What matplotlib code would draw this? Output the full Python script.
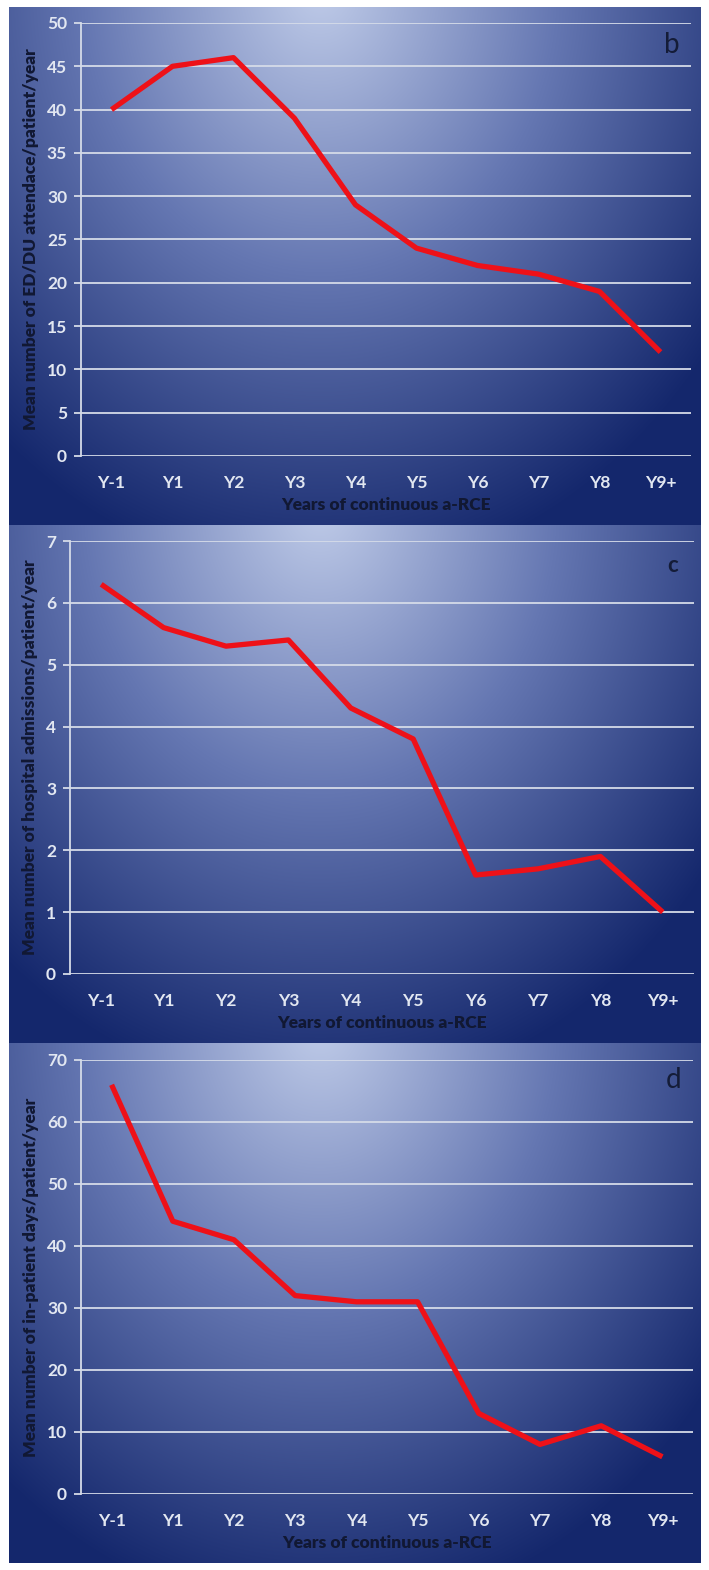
import numpy as np
import matplotlib
matplotlib.use("Agg")
import matplotlib.pyplot as plt
from matplotlib.colors import to_rgb

categories = ["Y-1", "Y1", "Y2", "Y3", "Y4", "Y5", "Y6", "Y7", "Y8", "Y9+"]
ed_visits = [40, 45, 46, 39, 29, 24, 22, 21, 19, 12]
admissions = [6.3, 5.6, 5.3, 5.4, 4.3, 3.8, 1.6, 1.7, 1.9, 1.0]
inpatient_days = [66, 44, 41, 32, 31, 31, 13, 8, 11, 6]

ylabel_b = "Mean number of ED/DU attendace/patient/year"
ylabel_c = "Mean number of hospital admissions/patient/year"
ylabel_d = "Mean number of in-patient days/patient/year"
xlabel = "Years of continuous a-RCE"

plt.rcParams['font.family'] = ['Lato', 'DejaVu Sans']

W, H = 709, 1570
fig = plt.figure(figsize=(W / 100, H / 100), dpi=100)
fig.patch.set_facecolor("white")


def fx(px):
    return px / W


def fy(py):
    return 1 - py / H


def gradient(w, h):
    light = np.array(to_rgb("#c0cce9"))
    mid = np.array(to_rgb("#6577b2"))
    dark = np.array(to_rgb("#14276c"))
    xs = np.linspace(0, 1, w)
    ys = np.linspace(0, 1, h)
    X, Y = np.meshgrid(xs, ys)
    d = np.sqrt(((X - 0.45) / 0.62) ** 2 + ((Y + 0.04) / 1.0) ** 2)
    d = np.clip(d / 1.15, 0, 1)
    s = 0.48
    t1 = np.clip(d / s, 0, 1)[..., None]
    t2 = np.clip((d - s) / (1 - s), 0, 1)[..., None]
    img = np.where(d[..., None] < s, light + (mid - light) * t1, mid + (dark - mid) * t2)
    return img


panels = [
    dict(bg=(9, 701, 7, 525), ax=(81, 691, 23, 456), data=ed_visits, ymax=50, step=5,
         ylabel=ylabel_b, letter="b", lpos=(672, 45), lsize=20, lweight="normal"),
    dict(bg=(9, 701, 525, 1043), ax=(70, 694, 541, 974), data=admissions, ymax=7, step=1,
         ylabel=ylabel_c, letter="c", lpos=(673, 566), lsize=16, lweight="bold"),
    dict(bg=(9, 701, 1043, 1563), ax=(81, 693, 1060, 1494), data=inpatient_days, ymax=70, step=10,
         ylabel=ylabel_d, letter="d", lpos=(674, 1080), lsize=20, lweight="normal"),
]

light_txt = "#e2e7f1"
grid_col = "#d5dbe8"

for p in panels:
    x0, x1, y0, y1 = p["bg"]
    bgax = fig.add_axes([fx(x0), fy(y1), fx(x1 - x0), (y1 - y0) / H])
    bgax.imshow(gradient(x1 - x0, y1 - y0), aspect="auto", extent=(0, 1, 1, 0))
    bgax.set_axis_off()

    a0, a1, b0, b1 = p["ax"]
    ax = fig.add_axes([fx(a0), fy(b1), fx(a1 - a0), (b1 - b0) / H])
    ax.set_facecolor("none")
    xs = np.arange(len(categories))
    ax.plot(xs, p["data"], color="#ee1118", lw=3.8, solid_capstyle="butt", zorder=3)
    ax.set_xlim(-0.5, len(categories) - 0.5)
    ax.set_ylim(0, p["ymax"])
    ax.set_yticks(np.arange(0, p["ymax"] + p["step"] / 2, p["step"]))
    ax.set_xticks(xs)
    ax.set_xticklabels(categories)
    ax.yaxis.grid(True, color=grid_col, lw=1.3, zorder=1)
    ax.set_axisbelow(True)
    for s in ["top", "right", "bottom"]:
        ax.spines[s].set_visible(False)
    ax.spines["left"].set_color(grid_col)
    ax.spines["left"].set_linewidth(1.3)
    ax.tick_params(axis="y", length=5, width=1.3, color=grid_col, labelcolor=light_txt,
                   labelsize=12.5, pad=5)
    ax.tick_params(axis="x", length=0, labelcolor=light_txt, labelsize=12.5, pad=14)
    for lab in ax.get_xticklabels() + ax.get_yticklabels():
        lab.set_fontweight("bold")
    ax.set_xlabel(xlabel, fontsize=12.5, fontweight="heavy", color="#111833", labelpad=4)
    ax.set_ylabel(p["ylabel"], fontsize=12.5, fontweight="heavy", color="#111833", labelpad=6)
    lx, ly = p["lpos"]
    fig.text(fx(lx), fy(ly), p["letter"], fontsize=p["lsize"], fontweight=p["lweight"],
             color="#141c38", ha="center", va="center")

fig.savefig("out.png", dpi=100, facecolor="white")
